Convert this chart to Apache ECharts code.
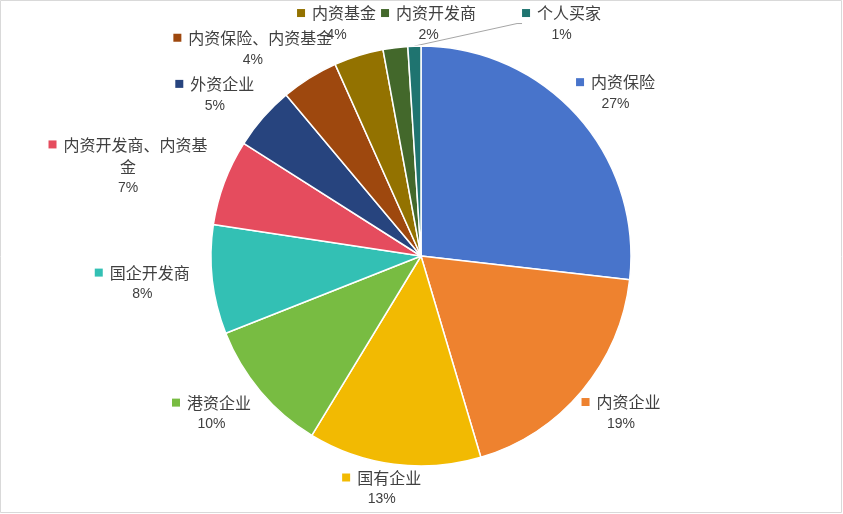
<!DOCTYPE html>
<html><head><meta charset="utf-8">
<script src="https://cdn.jsdelivr.net/npm/echarts@6/dist/echarts.min.js"></script>
<style>html,body{margin:0;padding:0;background:#fff}#c{width:843px;height:514px}</style>
</head><body><div id="c"></div>
<script>
const categories = ['内资保险','内资企业','国有企业','港资企业','国企开发商','内资开发商、内资基金','外资企业','内资保险、内资基金','内资基金','内资开发商','个人买家'];
const shares = [26.8,18.6,13.3,10.3,8.4,6.6,4.9,4.4,3.8,1.9,1.0];
const colors = ['#4874CB','#EE822F','#F2BA02','#78BC42','#33C0B4','#E54C5E','#27447E','#9E480E','#937200','#43682B','#1F7470'];
const leaderLabel = '个人买家';

const W = 843, H = 514;
const CX = 421, CY = 256, R = 210, GAP = 8, HX = 10, VY = 8, XOFF = -5, PAD = 5, EXTRA = 41, TOPSHIFT = -1.5, EDGE_TOP = 3, EDGE_BOTTOM = 7;
const total = shares.reduce((a, b) => a + b, 0);
const mids = [];
let acc = 0;
shares.forEach(v => { mids.push((acc + v / 2) / total * Math.PI * 2); acc += v; });

const rich = {
  n: { fontFamily: 'Noto Sans CJK SC', fontSize: 16, color: '#404040', lineHeight: 22 },
  p: { fontFamily: 'Liberation Sans', fontSize: 14, color: '#404040', lineHeight: 22 },
  g: { width: 7 }
};
colors.forEach((c, i) => { rich['m' + i] = { backgroundColor: c, width: 8, height: 8 }; });

let placed = [];
function layoutLabel(p) {
  const i = p.dataIndex;
  if (i === 0) placed = [];
  const a = mids[i];
  const s = Math.sin(a), c = Math.cos(a);
  const w = p.labelRect.width, h = p.labelRect.height;
  let x = CX + (R + GAP) * s + s * w / 2 + s * HX + XOFF;
  let y = CY - (R + GAP) * c - c * h / 2 - c * VY;
  const top = c > 0.9;
  const prev = placed[i - 1];
  if (top && !(prev && prev.top)) y -= TOPSHIFT;
  if (top && prev && prev.top) {
    const minX = prev.x + prev.w / 2 + PAD + (categories[i] === leaderLabel ? EXTRA : 0) + w / 2;
    if (x < minX) x = minX;
    y = prev.y;
  }
  y = Math.min(Math.max(y, EDGE_TOP + h / 2), H - EDGE_BOTTOM - h / 2);
  placed[i] = { x, y, w, top };
  return { x, y, align: 'center', verticalAlign: 'middle' };
}

const data = categories.map((name, i) => ({
  name,
  value: shares[i],
  itemStyle: { color: colors[i] },
  labelLine: { show: name === leaderLabel, lineStyle: { color: '#a6a6a6', width: 1 } }
}));

const chart = echarts.init(document.getElementById('c'), null, { renderer: 'canvas' });
chart.setOption({
  animation: false,
  backgroundColor: '#fff',
  graphic: [{ type: 'rect', shape: { x: 0.5, y: 0.5, width: 841, height: 512 }, style: { fill: 'none', stroke: '#d9d9d9', lineWidth: 1 } }],
  series: [{
    type: 'pie',
    center: [CX, CY],
    radius: R,
    startAngle: 90,
    clockwise: true,
    avoidLabelOverlap: false,
    itemStyle: { borderColor: '#fff', borderWidth: 1.5 },
    label: {
      show: true,
      position: 'outside',
      formatter: prm => {
        let nm = prm.name;
        if (prm.dataIndex === 5) nm = nm.slice(0, 9) + '\n' + nm.slice(9);
        return '{m' + prm.dataIndex + '|}{g|}{n|' + nm + '}\n{p|' + Math.round(prm.percent) + '%}';
      },
      rich
    },
    labelLine: { length: 5, length2: 5 },
    labelLayout: layoutLabel,
    emphasis: { disabled: true },
    data
  }]
});
</script></body></html>
